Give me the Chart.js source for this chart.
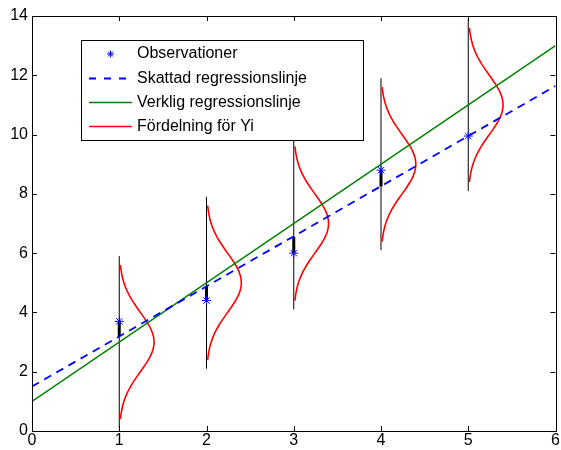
<!DOCTYPE html>
<html>
<head>
<meta charset="utf-8">
<script src="https://cdn.jsdelivr.net/npm/chart.js"></script>
<style>
  body { margin: 0; background: #fff; }
  #wrap { width: 561px; height: 450px; }
</style>
</head>
<body>
<div id="wrap"><canvas id="regChart"></canvas></div>
<script>
// Observations
const xObs = [1, 2, 3, 4, 5];
const yObs = [3.7, 4.4, 6.0, 8.8, 9.95];

// Regression lines (end points at x = 0 and x = 6)
const lineX = [0, 6];
const skattadY = [1.5, 11.64];
const verkligY = [1, 13];

// Fitted values on the estimated line (ends of the residual bars)
const skattadVidX = [3.2, 4.9, 6.55, 8.25, 9.95];

// Distribution of Yi: mean on the true line, sd 1, drawn over mean +/- 2.6
const fordelningMedel = [3, 5, 7, 9, 11];
const fordelningSd = 1;
const fordelningHalvbredd = 2.6;

// Thin vertical guide lines at each x
const guideLow = [0.1, 2.1, 4.1, 6.1, 8.1];
const guideHigh = [5.9, 7.9, 9.9, 11.9, 13.9];

const legendLabels = ['Observationer', 'Skattad regressionslinje', 'Verklig regressionslinje', 'Fördelning för Yi'];

Chart.defaults.font.family = '"Liberation Sans", Arial, sans-serif';
Chart.defaults.font.size = 16;
Chart.defaults.color = '#000';

function densityCurve(x0, mu, sd, half) {
    const pts = [];
    const n = 52;
    for (let k = 0; k <= n; k++) {
        const y = mu - half + (2 * half) * k / n;
        const z = (y - mu) / sd;
        pts.push({ x: x0 + Math.exp(-0.5 * z * z) / (sd * Math.sqrt(2 * Math.PI)), y: y });
    }
    return pts;
}

const datasets = [];

datasets.push({
    label: legendLabels[0],
    data: xObs.map((x, i) => ({ x: x, y: yObs[i] })),
    pointStyle: 'star',
    pointRadius: 4.5,
    pointBorderWidth: 1,
    borderColor: '#0000ff',
    backgroundColor: '#0000ff',
    showLine: false,
    order: 1
});
datasets.push({
    label: legendLabels[1],
    data: lineX.map((x, i) => ({ x: x, y: skattadY[i] })),
    borderColor: '#0000ff',
    borderWidth: 1.8,
    borderDash: [8, 6],
    pointRadius: 0,
    showLine: true,
    order: 2
});
datasets.push({
    label: legendLabels[2],
    data: lineX.map((x, i) => ({ x: x, y: verkligY[i] })),
    borderColor: '#008000',
    borderWidth: 1.5,
    pointRadius: 0,
    showLine: true,
    order: 3
});
xObs.forEach((x, i) => {
    // residual bar
    datasets.push({
        label: 'res' + i,
        data: [{ x: x, y: yObs[i] }, { x: x, y: skattadVidX[i] }],
        borderColor: '#000',
        borderWidth: 3,
        pointRadius: 0,
        showLine: true,
        order: 4
    });
    // distribution curve
    datasets.push({
        label: i === 0 ? legendLabels[3] : 'dist' + i,
        data: densityCurve(x, fordelningMedel[i], fordelningSd, fordelningHalvbredd),
        borderColor: '#ff0000',
        borderWidth: 1.6,
        pointRadius: 0,
        tension: 0.3,
        showLine: true,
        order: 5
    });
    // vertical guide
    datasets.push({
        label: 'guide' + i,
        data: [{ x: x, y: guideLow[i] }, { x: x, y: guideHigh[i] }],
        borderColor: '#000',
        borderWidth: 1,
        pointRadius: 0,
        showLine: true,
        order: 6
    });
});

// box round the plot with inward ticks on all sides
const boxTicks = {
    id: 'boxTicks',
    afterDatasetsDraw(chart) {
        const { ctx, chartArea: a, scales } = chart;
        ctx.save();
        ctx.strokeStyle = '#000';
        ctx.lineWidth = 1;
        ctx.beginPath();
        scales.x.ticks.forEach(t => {
            const px = Math.round(scales.x.getPixelForValue(t.value)) + 0.5;
            ctx.moveTo(px, a.bottom); ctx.lineTo(px, a.bottom - 5);
            ctx.moveTo(px, a.top); ctx.lineTo(px, a.top + 5);
        });
        scales.y.ticks.forEach(t => {
            const py = Math.round(scales.y.getPixelForValue(t.value)) + 0.5;
            ctx.moveTo(a.left, py); ctx.lineTo(a.left + 5, py);
            ctx.moveTo(a.right, py); ctx.lineTo(a.right - 5, py);
        });
        ctx.stroke();
        ctx.strokeRect(Math.round(a.left) + 0.5, Math.round(a.top) + 0.5,
            Math.round(a.right - a.left), Math.round(a.bottom - a.top));
        ctx.restore();
    }
};

// legend box inside the plot
const boxLegend = {
    id: 'boxLegend',
    afterDraw(chart) {
        const ctx = chart.ctx;
        const bx = 81, by = 40, bw = 282, bh = 100;
        ctx.save();
        ctx.fillStyle = '#fff';
        ctx.fillRect(bx, by, bw, bh);
        ctx.strokeStyle = '#000';
        ctx.lineWidth = 1;
        ctx.strokeRect(bx + 0.5, by + 0.5, bw, bh);
        const rowY = [54, 78.5, 102.5, 126.5];
        const x1 = 89, x2 = 132, tx = 137;
        // star marker
        ctx.strokeStyle = '#0000ff';
        ctx.beginPath();
        const mx = (x1 + x2) / 2, my = rowY[0], r = 3.5;
        ctx.moveTo(mx - r, my); ctx.lineTo(mx + r, my);
        ctx.moveTo(mx, my - r); ctx.lineTo(mx, my + r);
        ctx.moveTo(mx - r * 0.7, my - r * 0.7); ctx.lineTo(mx + r * 0.7, my + r * 0.7);
        ctx.moveTo(mx - r * 0.7, my + r * 0.7); ctx.lineTo(mx + r * 0.7, my - r * 0.7);
        ctx.stroke();
        // dashed blue
        ctx.lineWidth = 1.8;
        ctx.setLineDash([7, 8]);
        ctx.beginPath(); ctx.moveTo(x1, rowY[1]); ctx.lineTo(x2, rowY[1]); ctx.stroke();
        ctx.setLineDash([]);
        ctx.lineWidth = 1.5;
        ctx.strokeStyle = '#008000';
        ctx.beginPath(); ctx.moveTo(x1, rowY[2]); ctx.lineTo(x2, rowY[2]); ctx.stroke();
        ctx.strokeStyle = '#ff0000';
        ctx.beginPath(); ctx.moveTo(x1, rowY[3]); ctx.lineTo(x2, rowY[3]); ctx.stroke();
        ctx.fillStyle = '#000';
        ctx.font = '16px "Liberation Sans", Arial, sans-serif';
        ctx.textBaseline = 'middle';
        legendLabels.forEach((s, i) => ctx.fillText(s, tx, rowY[i]));
        ctx.restore();
    }
};

new Chart(document.getElementById('regChart'), {
    type: 'scatter',
    data: { datasets: datasets },
    options: {
        responsive: true,
        maintainAspectRatio: false,
        animation: false,
        layout: { padding: { top: 16, right: 4, left: 0, bottom: 0 } },
        plugins: {
            legend: { display: false },
            tooltip: { enabled: false }
        },
        scales: {
            x: {
                type: 'linear',
                min: 0, max: 6,
                ticks: { stepSize: 1, padding: 0, maxRotation: 0 },
                grid: { display: false, drawTicks: false },
                border: { display: false },
                afterFit(s) { s.height = 19; }
            },
            y: {
                type: 'linear',
                min: 0, max: 14,
                ticks: { stepSize: 2, padding: 4 },
                grid: { display: false, drawTicks: false },
                border: { display: false },
                afterFit(s) { s.width = 32; }
            }
        }
    },
    plugins: [boxTicks, boxLegend]
});
</script>
</body>
</html>
